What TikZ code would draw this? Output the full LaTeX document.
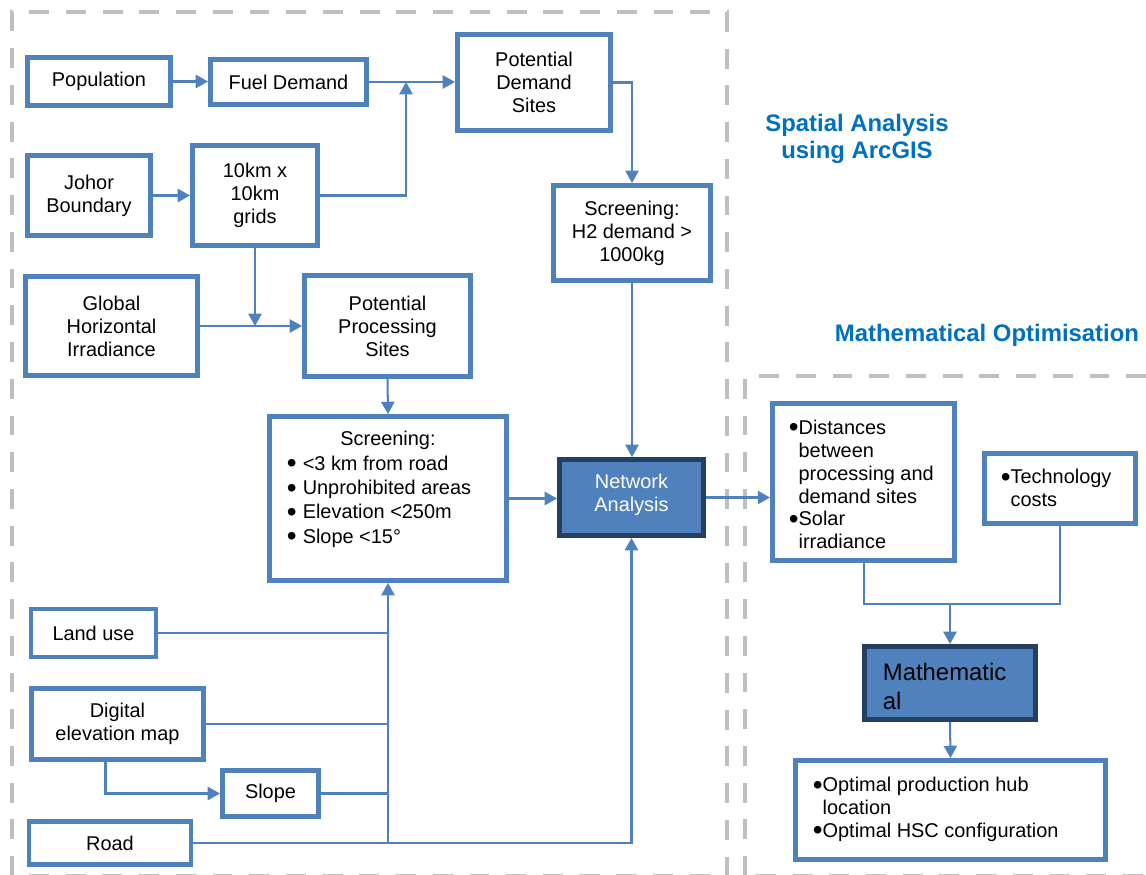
\documentclass[tikz,border=0pt]{standalone}
\usepackage{fontspec}
\setmainfont{Liberation Sans}
\usetikzlibrary{arrows.meta,calc}
\definecolor{bbox}{RGB}{79,129,189}
\definecolor{dbox}{RGB}{36,63,96}
\definecolor{dgray}{RGB}{191,191,191}
\definecolor{ttl}{RGB}{0,112,192}
\newcommand{\bodyf}{\fontsize{11.34pt}{13.04pt}\selectfont}
\newcommand{\listf}{\fontsize{11.34pt}{13.8pt}\selectfont}
\newcommand{\mathf}{\fontsize{13.6pt}{17pt}\selectfont}
\newcommand{\ttlf}{\fontsize{13.6pt}{15.3pt}\selectfont\bfseries}
\newcommand{\bu}{\smash{\raisebox{-1.4pt}{\fontsize{15.9pt}{13pt}\selectfont •}}}
\begin{document}
\begin{tikzpicture}[x=0.02cm,y=-0.02cm,
  sz/.style n args={2}{minimum width=#1*0.02cm,minimum height=#2*0.02cm},
  bx/.style={draw=bbox,line width=2.8pt,fill=white,inner sep=0pt,align=center,font=\bodyf},
  dk/.style={draw=dbox,line width=2.8pt,fill=bbox,inner sep=0pt},
  arr/.style={draw=bbox,line width=1.15pt,-{Triangle[length=7pt,width=7.5pt]}},
  ln/.style={draw=bbox,line width=1.15pt},
  dashbox/.style={draw=dgray,line width=2.3pt,dash pattern=on 11.3pt off 9.6pt},
  txt/.style={inner sep=0pt,font=\bodyf},
]
\useasboundingbox (0,0) rectangle (1146,875);
% dashed group frames
\draw[dashbox] (12,876) -- (12,12) -- (727,12) -- (727,876) -- cycle;
\draw[dashbox] (745,876) -- (745,376) -- (1160,376) -- (1160,876) -- cycle;

% titles
\node[font=\ttlf,text=ttl,align=center,inner sep=0pt] (t1) at (857,138.5) {Spatial Analysis\\using ArcGIS};
\node[font=\ttlf,text=ttl,inner sep=0pt] (t2) at (987,335) {Mathematical Optimisation};

% boxes
\node[bx,sz={143}{48}] (pop) at (99,81.5) {Population};
\node[bx,sz={156}{45}] (fuel) at (288.5,82) {Fuel Demand};
\node[bx,sz={123}{80}] (johor) at (89,195.5) {Johor\\Boundary};
\node[bx,sz={125}{100}] (grid) at (255,195.5) {10km x\\10km\\grids};
\node[bx,sz={153}{96}] (pds) at (534,82.5) {Potential\\Demand\\Sites};
\node[bx,sz={157}{95}] (scrH) at (632,233) {Screening:\\H2 demand >\\1000kg};
\node[bx,sz={172}{99}] (ghi) at (111.5,326) {Global\\Horizontal\\Irradiance};
\node[bx,sz={166}{101}] (pps) at (387.5,326) {Potential\\Processing\\Sites};
\node[bx,sz={237}{164}] (scr) at (388,498.5) {};
\node[dk,sz={144}{76}] (net) at (631.5,497.5) {};
\node[bx,sz={182}{157}] (dist) at (863.5,482) {};
\node[bx,sz={151}{70}] (tech) at (1060,488.5) {};
\node[dk,sz={171}{73}] (math) at (950,683) {};
\node[bx,sz={310}{99}] (opt) at (950.5,810) {};
\node[bx,sz={125}{48}] (land) at (93.5,633) {Land use};
\node[bx,sz={172}{71}] (dem) at (117.5,724) {Digital\\elevation map};
\node[bx,sz={96}{46}] (slope) at (270.5,793.5) {Slope};
\node[bx,sz={162}{43}] (road) at (110,843) {Road};

% texts inside boxes
\node[txt] (scrT) at (388,440) {Screening:};
\node[inner sep=0pt,font=\listf,anchor=west] (scrL) at (286.5,502) {\begin{tabular}{@{}l@{}}%
\bu\hspace{3.5pt}<3 km from road\\
\bu\hspace{3.5pt}Unprohibited areas\\
\bu\hspace{3.5pt}Elevation <250m\\
\bu\hspace{3.5pt}Slope <15°\end{tabular}};
\node[txt,text=white,align=center] (netT) at (631.5,494.5) {Network\\Analysis};
\node[txt,anchor=west] (distT) at (788.5,487) {\begin{tabular}{@{}l@{}}%
\bu Distances\\
\hphantom{\bu}between\\
\hphantom{\bu}processing and\\
\hphantom{\bu}demand sites\\
\bu Solar\\
\hphantom{\bu}irradiance\end{tabular}};
\node[txt,anchor=west] (techT) at (1000.5,490.5) {\begin{tabular}{@{}l@{}}%
\bu Technology\\
\hphantom{\bu}costs\end{tabular}};
\node[inner sep=0pt,anchor=west,font=\mathf] (mathT) at (882.5,689) {\begin{tabular}{@{}l@{}}Mathematic\\al\end{tabular}};
\node[txt,anchor=west] (optT) at (812.5,810) {\begin{tabular}{@{}l@{}}%
\bu Optimal production hub\\
\hphantom{\bu}location\\
\bu Optimal HSC configuration\end{tabular}};

% junction coordinates
\coordinate (j1) at (406,82);
\coordinate (j3) at (950,604);
\coordinate (demx) at (105.5,762);

% connectors
\draw[arr] (pop.east) -- (fuel.west |- pop.east);
\draw[arr] (fuel.east) -- (pds.west |- fuel.east);
\draw[arr] (johor.east) -- (grid.west |- johor.east);
\draw[arr] (grid.east) -| (j1);
\draw[arr] (grid.south) -- (grid.south |- ghi.east);
\draw[arr] (ghi.east) -- (pps.west |- ghi.east);
\draw[arr] (pps.south) -- (scr.north);
\draw[arr] (pds.east) -| (scrH.north);
\draw[arr] (scrH.south) -- (scrH.south |- net.north);
\draw[arr] (scr.east) -- (net.west |- scr.east);
\draw[arr] (net.east) -- (dist.west |- net.east);
\draw[ln] (land.east) -- (land.east -| scr.south);
\draw[ln] (dem.east) -- (dem.east -| scr.south);
\draw[ln] (slope.east) -- (slope.east -| scr.south);
\draw[arr] (demx) |- (slope.west);
\draw[arr] (road.east -| scr.south) -- (scr.south);
\draw[arr] (road.east) -| (net.south);
\draw[ln] (dist.south) |- (j3) -| (tech.south);
\draw[arr] (j3) -- (math.north);
\draw[arr] (math.south) -- (opt.north);
\end{tikzpicture}
\end{document}
